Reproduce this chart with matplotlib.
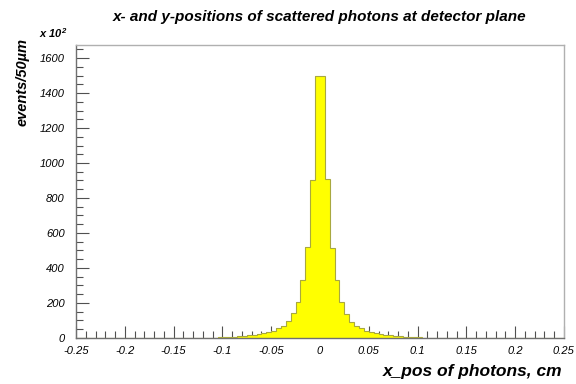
import numpy as np
import matplotlib
matplotlib.use("Agg")
import matplotlib.pyplot as plt
from matplotlib.ticker import MultipleLocator

# bin contents in units of 10^2, 50 um (0.005 cm) bins, from 0 outward
counts_pos = [1500, 910, 515, 331, 206, 137, 92, 68, 54, 42,
              34, 28, 22, 18, 15, 12, 10, 8, 6, 5,
              3, 2, 2, 1, 1, 1, 1, 0, 0, 0,
              0, 0, 0, 0, 0, 0, 0, 0, 0, 0,
              0, 0, 0, 0, 0, 0, 0, 0, 0, 0]
counts_neg = [1500, 903, 520, 331, 206, 140, 95, 70, 57, 40,
              34, 29, 23, 17, 14, 12, 9, 7, 6, 4,
              3, 2, 2, 1, 1, 1, 0, 0, 0, 0,
              0, 0, 0, 0, 0, 0, 0, 0, 0, 0,
              0, 0, 0, 0, 0, 0, 0, 0, 0, 0]
bin_width = 0.005
x_min, x_max = -0.25, 0.25

plt.rcParams['font.family'] = ['Liberation Sans', 'DejaVu Sans']

values = np.array(counts_neg[::-1] + counts_pos, dtype=float)
edges = np.linspace(x_min, x_max, len(values) + 1)

fig = plt.figure(figsize=(5.76, 3.84), dpi=100)
ax = fig.add_axes([0.132, 0.120, 0.847, 0.763])

ax.stairs(values, edges, fill=True, color='#ffff00', zorder=2)
ax.stairs(values, edges, color='#a8a840', linewidth=0.8, zorder=3)

ax.set_xlim(x_min, x_max)
ax.set_ylim(0, 1675)

ax.xaxis.set_major_locator(MultipleLocator(0.05))
ax.xaxis.set_minor_locator(MultipleLocator(0.01))
ax.yaxis.set_major_locator(MultipleLocator(200))
ax.yaxis.set_minor_locator(MultipleLocator(50))
ax.set_xticks(np.arange(-0.25, 0.2501, 0.05))
ax.set_xticklabels(['-0.25', '-0.2', '-0.15', '-0.1', '-0.05', '0',
                    '0.05', '0.1', '0.15', '0.2', '0.25'])

ax.tick_params(which='both', direction='in', top=False, right=False,
               color='#505050', width=0.8)
ax.tick_params(which='major', length=9)
ax.tick_params(which='minor', length=5)
ax.tick_params(axis='x', pad=6)
ax.tick_params(axis='y', pad=8)
for lab in ax.get_xticklabels() + ax.get_yticklabels():
    lab.set_fontsize(8)
    lab.set_style('italic')

for side in ['top', 'right']:
    ax.spines[side].set_color('#b0b0b0')
for side in ['left', 'bottom']:
    ax.spines[side].set_color('#707070')
for sp in ax.spines.values():
    sp.set_linewidth(1.0)

fig.text(0.555, 0.955, 'x- and y-positions of scattered photons at detector plane',
         ha='center', va='center', fontsize=11, style='italic', weight='bold')
fig.text(0.068, 0.915, r'x 10$^{\mathregular{2}}$', ha='left', va='center',
         fontsize=8, style='italic', weight='bold')
fig.text(0.040, 0.90, 'events/50\u00b5m', rotation=90, ha='center', va='top',
         fontsize=10.5, style='italic', weight='bold')
fig.text(0.977, 0.032, 'x_pos of photons, cm', ha='right', va='center',
         fontsize=12.5, style='italic', weight='bold')

fig.savefig('out.png', dpi=100)
